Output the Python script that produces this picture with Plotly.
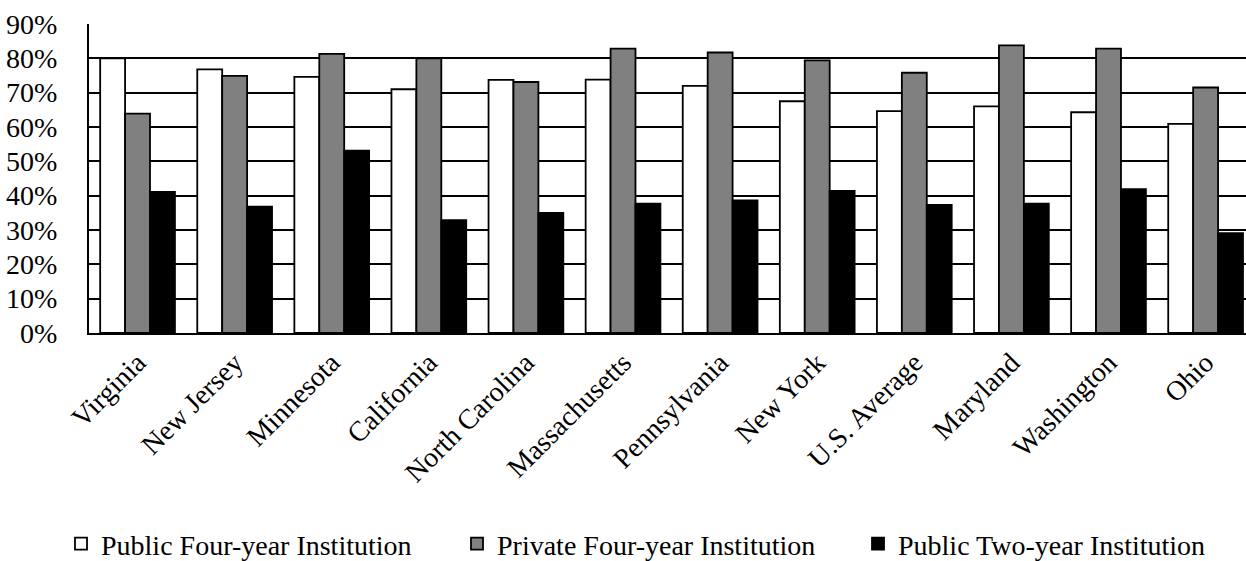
import plotly.graph_objects as go

# Graduation rates by state and institution type
states = ["Virginia", "New Jersey", "Minnesota", "California", "North Carolina",
          "Massachusetts", "Pennsylvania", "New York", "U.S. Average", "Maryland",
          "Washington", "Ohio"]
public_four = [0.800, 0.768, 0.746, 0.710, 0.737, 0.738, 0.720, 0.675, 0.646, 0.660, 0.643, 0.609]
private_four = [0.639, 0.749, 0.813, 0.800, 0.731, 0.828, 0.817, 0.794, 0.758, 0.838, 0.828, 0.715]
public_two = [0.411, 0.368, 0.531, 0.329, 0.350, 0.377, 0.386, 0.414, 0.373, 0.377, 0.419, 0.291]

series = [
    ("Public Four-year Institution", public_four, "#ffffff"),
    ("Private Four-year Institution", private_four, "#808080"),
    ("Public Two-year Institution", public_two, "#000000"),
]

FONT = "Liberation Serif, Times New Roman, serif"
W, H = 1246, 561

# one single-entry legend per series, laid out in a row under the axis labels
legend_ids = ["legend", "legend2", "legend3"]
legend_left = [61, 457, 858]

fig = go.Figure()
for (name, vals, color), lid in zip(series, legend_ids):
    fig.add_trace(go.Bar(
        name=name, x=states, y=vals, legend=lid,
        marker=dict(color=color, line=dict(color="#000000", width=1.8)),
    ))

legends = {}
for lid, left in zip(legend_ids, legend_left):
    legends[lid] = dict(
        orientation="h", xref="container", yref="container",
        x=left / W, xanchor="left", y=1 - 544 / H, yanchor="middle",
        font=dict(family=FONT, size=28, color="#000000"),
        bgcolor="rgba(0,0,0,0)",
    )

fig.update_layout(
    width=W, height=H,
    margin=dict(l=89, r=0, t=24, b=228),
    paper_bgcolor="#ffffff", plot_bgcolor="#ffffff",
    barmode="group", bargap=0.23, bargroupgap=0,
    font=dict(family=FONT, size=28, color="#000000"),
    showlegend=True,
    **legends,
    xaxis=dict(
        range=[-0.5, 11.416], tickangle=-45,
        showline=True, linecolor="#000000", linewidth=2,
        showgrid=False, ticks="",
        tickfont=dict(family=FONT, size=28, color="#000000"),
    ),
    yaxis=dict(
        range=[0, 0.9], dtick=0.1, tickformat=".0%",
        showgrid=True, gridcolor="#000000", gridwidth=2,
        showline=True, linecolor="#000000", linewidth=2,
        zeroline=False, ticks="", ticklabelstandoff=24,
        tickfont=dict(family=FONT, size=28, color="#000000"),
    ),
)

fig.write_html("out.html")
